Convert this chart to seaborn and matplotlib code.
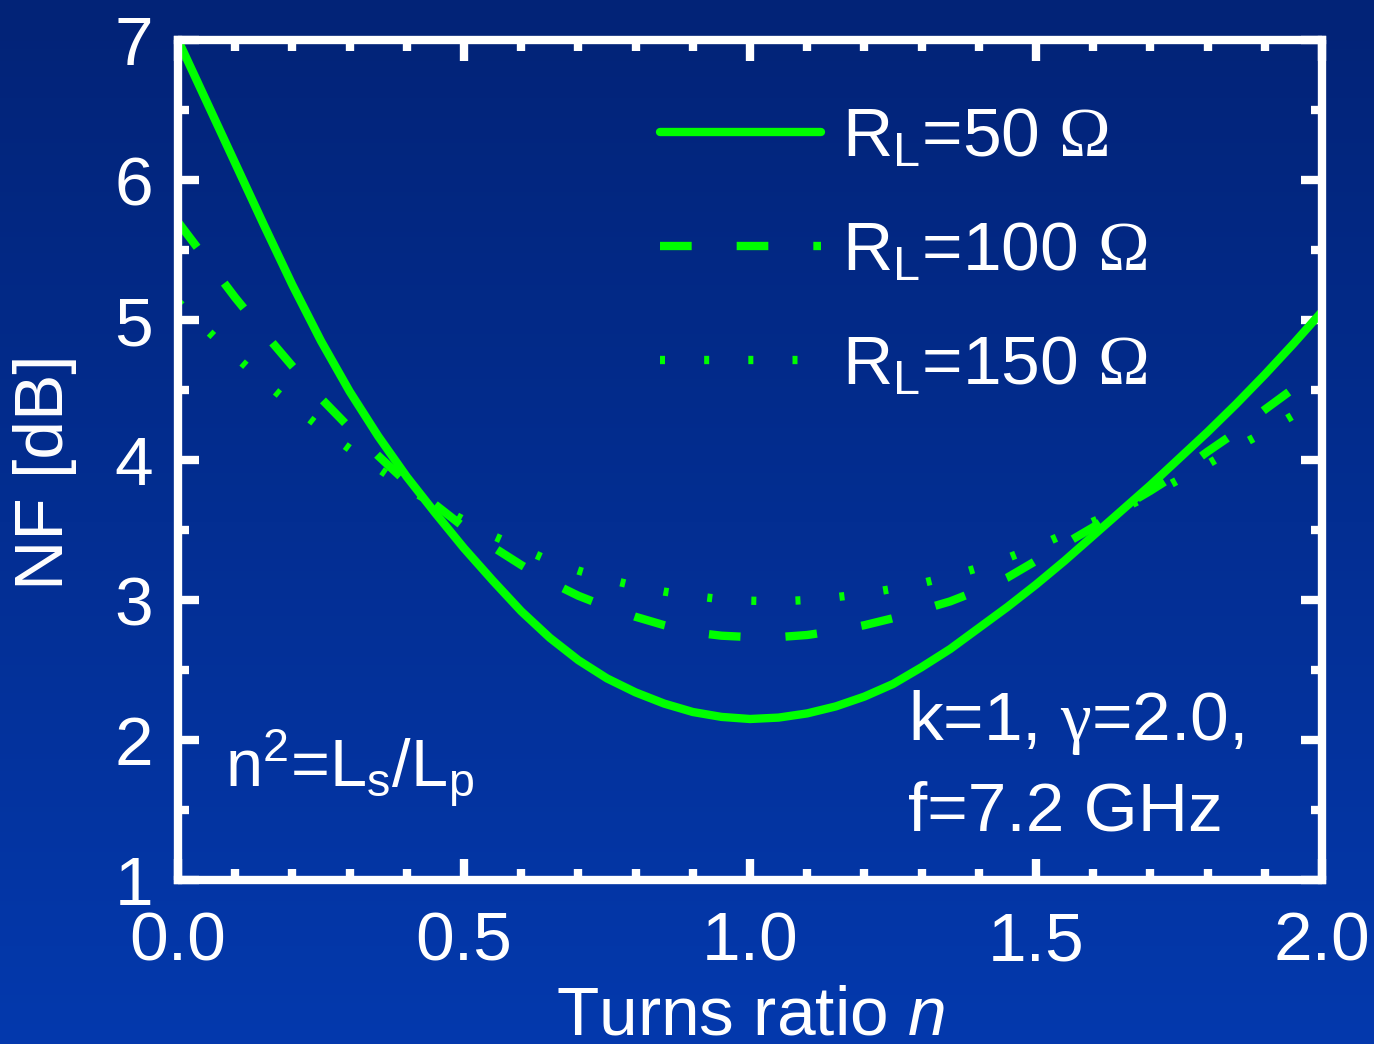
import numpy as np
import pandas as pd
import matplotlib
matplotlib.use("Agg")
import matplotlib.pyplot as plt
import seaborn as sns
from matplotlib.ticker import MultipleLocator, FormatStrFormatter
from matplotlib.colors import LinearSegmentedColormap

# Turns ratio n (x axis)
turns_ratio = [0.00, 0.05, 0.10, 0.15, 0.20, 0.25, 0.30, 0.35, 0.40, 0.45,
               0.50, 0.55, 0.60, 0.65, 0.70, 0.75, 0.80, 0.85, 0.90, 0.95,
               1.00, 1.05, 1.10, 1.15, 1.20, 1.25, 1.30, 1.35, 1.40, 1.45,
               1.50, 1.55, 1.60, 1.65, 1.70, 1.75, 1.80, 1.85, 1.90, 1.95,
               2.00]

# Noise figure [dB] for each load resistance
nf_rl50 = [7.00, 6.56, 6.12, 5.68, 5.25, 4.85, 4.49, 4.17, 3.88, 3.62,
           3.37, 3.14, 2.92, 2.73, 2.57, 2.44, 2.34, 2.26, 2.20, 2.165,
           2.15, 2.16, 2.19, 2.24, 2.31, 2.40, 2.52, 2.65, 2.80, 2.95,
           3.11, 3.28, 3.46, 3.64, 3.82, 4.01, 4.20, 4.40, 4.61, 4.83,
           5.06]
nf_rl100 = [5.70, 5.43, 5.16, 4.91, 4.67, 4.44, 4.23, 4.03, 3.84, 3.68,
            3.52, 3.38, 3.25, 3.13, 3.03, 2.95, 2.88, 2.82, 2.77, 2.745,
            2.735, 2.735, 2.75, 2.78, 2.82, 2.87, 2.93, 2.99, 3.07, 3.16,
            3.28, 3.40, 3.52, 3.66, 3.78, 3.91, 4.06, 4.20, 4.36, 4.51,
            4.64]
nf_rl150 = [5.13, 4.93, 4.74, 4.56, 4.39, 4.23, 4.08, 3.94, 3.80, 3.68,
            3.57, 3.46, 3.37, 3.28, 3.21, 3.15, 3.10, 3.06, 3.03, 3.005,
            2.995, 2.99, 3.00, 3.02, 3.045, 3.08, 3.12, 3.17, 3.23, 3.30,
            3.38, 3.47, 3.56, 3.65, 3.75, 3.86, 3.97, 4.09, 4.20, 4.32,
            4.45]

series_labels = [r"R$_\mathregular{L}$=50 $\mathrm{\Omega}$",
                 r"R$_\mathregular{L}$=100 $\mathrm{\Omega}$",
                 r"R$_\mathregular{L}$=150 $\mathrm{\Omega}$"]
x_ticks = [0.0, 0.5, 1.0, 1.5, 2.0]
y_ticks = [1, 2, 3, 4, 5, 6, 7]

GREEN = "#00ff00"
WHITE = "white"
LW = 6
line_styles = ["-", (0, (3.8, 5.4)), (0, (0.6, 4.7))]

sns.set_theme(style="ticks")
plt.rcParams["font.family"] = ["Liberation Sans", "DejaVu Sans"]
plt.rcParams["mathtext.fontset"] = "custom"
plt.rcParams["mathtext.rm"] = "Liberation Serif"
plt.rcParams["mathtext.it"] = "Liberation Sans:italic"
plt.rcParams["mathtext.bf"] = "Liberation Sans:bold"

fig = plt.figure(figsize=(13.74, 10.44), dpi=100)

# vertical blue gradient behind everything
bg = fig.add_axes([0, 0, 1, 1], zorder=-10)
grad = np.linspace(0, 1, 256).reshape(-1, 1)
cmap = LinearSegmentedColormap.from_list("bg", ["#022377", "#0439ad"])
bg.imshow(grad, aspect="auto", cmap=cmap, extent=[0, 1, 0, 1], origin="upper")
bg.set_axis_off()

ax = fig.add_axes([178 / 1374, 1 - 880 / 1044, 1144 / 1374, 840 / 1044])
ax.set_facecolor("none")

for nf, lab, ls in zip([nf_rl50, nf_rl100, nf_rl150], series_labels, line_styles):
    df = pd.DataFrame({"n": turns_ratio, "NF": nf})
    sns.lineplot(data=df, x="n", y="NF", ax=ax, color=GREEN, linewidth=LW,
                 linestyle=ls, label=lab)

ax.set_xlim(0, 2)
ax.set_ylim(1, 7)
ax.set_xticks(x_ticks)
ax.set_yticks(y_ticks)
ax.xaxis.set_minor_locator(MultipleLocator(0.1))
ax.yaxis.set_minor_locator(MultipleLocator(0.5))
ax.xaxis.set_major_formatter(FormatStrFormatter("%.1f"))
ax.yaxis.set_major_formatter(FormatStrFormatter("%d"))

for sp in ax.spines.values():
    sp.set_visible(True)
    sp.set_color(WHITE)
    sp.set_linewidth(LW)

ax.tick_params(which="both", direction="in", top=True, right=True,
               color=WHITE, labelcolor=WHITE, width=LW, labelsize=50)
ax.tick_params(which="major", length=15)
ax.tick_params(which="minor", length=8)
ax.tick_params(axis="x", pad=22)
ax.tick_params(axis="y", pad=18)

ax.set_xlabel("Turns ratio $n$", fontsize=50, color=WHITE, labelpad=7)
ax.set_ylabel("NF [dB]", fontsize=50, color=WHITE)
ax.yaxis.set_label_coords(-0.088, 0.485)

leg = ax.legend(loc="upper left", bbox_to_anchor=(0.421, 0.921), frameon=False,
                fontsize=50, handlelength=2.33, handletextpad=0.3,
                labelspacing=0.72, borderpad=0, borderaxespad=0)
for t in leg.get_texts():
    t.set_color(WHITE)

ax.text(0.083, 1.664, r"n$^\mathregular{2}$=L$_\mathregular{s}$/L$_\mathregular{p}$",
        fontsize=48, color=WHITE, va="baseline", ha="left")
ax.text(1.276, 2.0, r"k=1, $\mathrm{\gamma}$=2.0,", fontsize=50, color=WHITE,
        va="baseline", ha="left")
ax.text(1.276, 1.357, "f=7.2 GHz", fontsize=50, color=WHITE,
        va="baseline", ha="left")

fig.savefig("out.png", dpi=100)
